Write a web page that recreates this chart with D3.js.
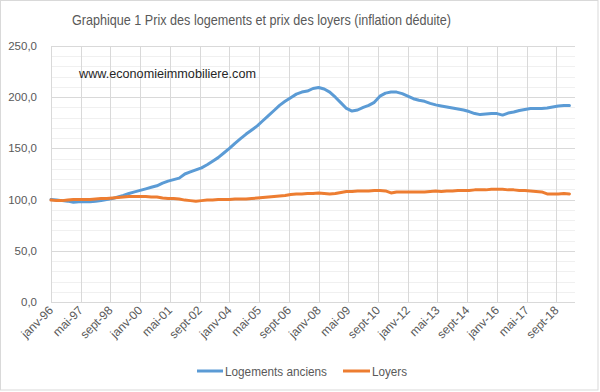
<!DOCTYPE html>
<html><head><meta charset="utf-8">
<script src="https://cdn.jsdelivr.net/npm/d3@7"></script>
<style>body{margin:0;background:#fff}svg{display:block}text{font-family:"Liberation Sans",Arial,sans-serif}</style>
</head><body><svg id="c" width="600" height="392"></svg>
<script>
const title = "Graphique 1 Prix des logements et prix des loyers (inflation déduite)";
const watermark = "www.economieimmobiliere.com";
const seriesNames = ["Logements anciens", "Loyers"];
const startYear = 1996, nQuarters = 94; // 1996T1 .. 2019T2
const logements = [
 100,99.5,99,98.5, 97.5,98,98,98, 98.5,99,100,101, 102.5,104,106,107.5,
 109,110.5,112,113.5, 116,118,119.5,121, 125,127,129,131, 134,137.5,141,145.5,
 150,155,159.5,164, 168,172,177,182, 187,192,196,199.5, 203,205,206,208.5,
 209.5,208,205,200, 194.5,189,186.5,187.5, 190,192,195,201, 204,205,205,203.5,
 201,198.5,197,196, 194,192.5,191.5,190.5, 189.5,188.5,187.5,186, 184,183,183.5,184,
 184,182.5,184.5,185.5, 187,188,189,189, 189,189.5,190.5,191.5, 192,192
];
const loyers = [
 99.5,99,99,99.5, 100,100,100,100, 100.5,101,101,101.5, 102,102.5,103,103,
 103,103,102.5,102.5, 101.5,101,101,100.5, 99.5,99,98.5,99, 99.5,99.5,100,100,
 100,100.5,100.5,100.5, 101,101.5,102,102.5, 103,103.5,104,105, 105.5,105.5,106,106,
 106.5,106,105.5,106, 107,108,108,108.5, 108.5,108.5,109,109, 108.5,106.5,107.5,107.5,
 107.5,107.5,107.5,107.5, 108,108.5,108,108.5, 108.5,109,109,109, 109.5,109.5,109.5,110,
 110,110,109.5,109.5, 109,109,108.5,108, 107.5,105.5,105.5,105.5, 106,105.5
];
const yTicks = [0,50,100,150,200,250];
const yLabels = ["0,0","50,0","100,0","150,0","200,0","250,0"];
const xTickLabels = ["janv-96","mai-97","sept-98","janv-00","mai-01","sept-02","janv-04","mai-05","sept-06",
 "janv-08","mai-09","sept-10","janv-12","mai-13","sept-14","janv-16","mai-17","sept-18"];
const colors = ["#5B9BD5","#ED7D31"];

const dates = d3.range(nQuarters).map(i => new Date(startYear, i*3, 1));
const tickDates = xTickLabels.map((l,i) => new Date(startYear, i*16, 1));

const svg = d3.select("#c");
const L=51, R=575, T=46, B=302;
const x = d3.scaleTime().domain([new Date(1996,0,1), new Date(2019,6,1)]).range([L,R]);
const y = d3.scaleLinear().domain([0,250]).range([B,T]);

svg.append("rect").attr("x",0.5).attr("y",0.5).attr("width",597.5).attr("height",389.5)
  .attr("fill","#fff").attr("stroke","#d9d9d9");

// minor gridlines
svg.append("g").selectAll("line").data(d3.range(10,250,10).filter(v=>v%50)).join("line")
  .attr("x1",L).attr("x2",R).attr("y1",d=>Math.round(y(d))+0.5).attr("y2",d=>Math.round(y(d))+0.5)
  .attr("stroke","#f0f0f0").attr("stroke-width",1);
// vertical gridlines
svg.append("g").selectAll("line").data(tickDates).join("line")
  .attr("x1",d=>Math.round(x(d))+0.5).attr("x2",d=>Math.round(x(d))+0.5)
  .attr("y1",T).attr("y2",B)
  .attr("stroke","#d9d9d9").attr("stroke-width",1);
// major gridlines
svg.append("g").selectAll("line").data(yTicks).join("line")
  .attr("x1",L).attr("x2",R).attr("y1",d=>Math.round(y(d))+0.5).attr("y2",d=>Math.round(y(d))+0.5)
  .attr("stroke","#d9d9d9").attr("stroke-width",1);

// y labels
svg.append("g").selectAll("text").data(yTicks).join("text")
  .attr("x",37).attr("y",d=>y(d)+4).attr("text-anchor","end")
  .attr("font-size",11.5).attr("fill","#595959").text((d,i)=>yLabels[i]);

// x labels
svg.append("g").selectAll("text").data(tickDates).join("text")
  .attr("transform",d=>`translate(${x(d)+3},${B+9}) rotate(-45)`)
  .attr("text-anchor","end").attr("font-size",12).attr("fill","#595959")
  .text((d,i)=>xTickLabels[i]);

// lines
const line = d3.line().x((d,i)=>x(dates[i])).y(d=>y(d));
[logements, loyers].forEach((s,k)=>{
  svg.append("path").datum(s).attr("d",line).attr("fill","none")
    .attr("stroke",colors[k]).attr("stroke-width",3).attr("stroke-linejoin","round").attr("stroke-linecap","round");
});

// title
svg.append("text").attr("x",72).attr("y",25).attr("font-size",14.5).attr("fill","#595959")
  .attr("textLength",379).attr("lengthAdjust","spacingAndGlyphs").text(title);
// watermark
svg.append("text").attr("x",79).attr("y",78).attr("font-size",12).attr("fill","#262626")
  .attr("textLength",177).attr("lengthAdjust","spacingAndGlyphs").text(watermark);

// legend
const lg = [{x1:197,x2:223,tx:225,w:102},{x1:343,x2:370,tx:372,w:35}];
lg.forEach((g,k)=>{
  svg.append("line").attr("x1",g.x1).attr("x2",g.x2).attr("y1",371).attr("y2",371)
    .attr("stroke",colors[k]).attr("stroke-width",3);
  svg.append("text").attr("x",g.tx).attr("y",375.5).attr("font-size",12).attr("fill","#595959")
    .attr("textLength",g.w).attr("lengthAdjust","spacingAndGlyphs").text(seriesNames[k]);
});
</script></body></html>
